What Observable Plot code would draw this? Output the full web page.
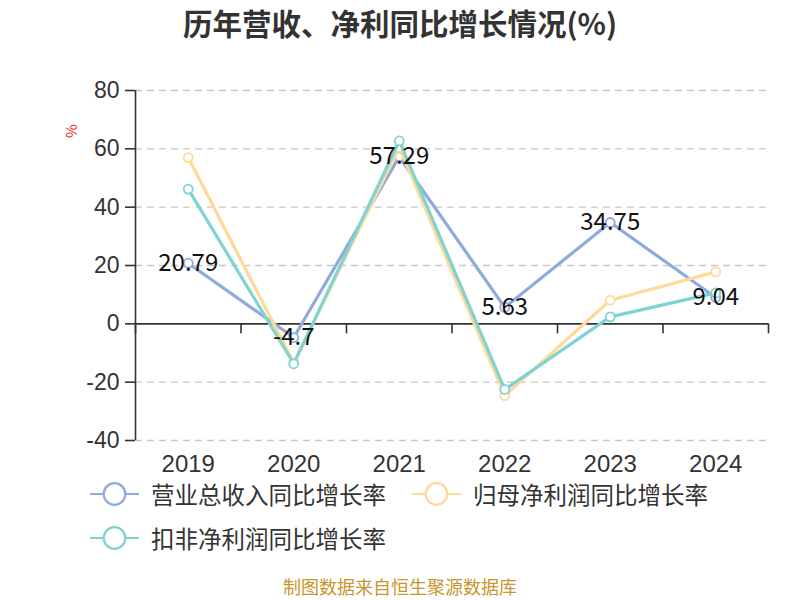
<!DOCTYPE html>
<html><head><meta charset="utf-8">
<script src="https://cdn.jsdelivr.net/npm/d3@7"></script>
<script src="https://cdn.jsdelivr.net/npm/@observablehq/plot@0.6"></script>
<style>
html,body{margin:0;padding:0;background:#fff;}
#wrap{position:relative;width:800px;height:600px;font-family:"Noto Sans CJK SC","Noto Sans",sans-serif;color:#333;overflow:hidden;}
#chart{position:absolute;left:0;top:0;}
.abs{position:absolute;white-space:nowrap;}
#title{left:0;width:800px;text-align:center;top:0px;line-height:44px;font-size:29.5px;font-weight:bold;color:#333;}
#caption{left:0;width:800px;text-align:center;top:577px;line-height:18px;font-size:18px;color:#C8962E;}
#ylab{left:64px;top:122px;font-size:15px;line-height:18px;color:#e8222a;transform:rotate(-90deg);transform-origin:center;}
.leg{display:flex;align-items:center;font-size:23.5px;line-height:24px;color:#333;}
.leg svg{margin-right:12px;}
</style></head>
<body>
<div id="wrap">
  <div id="chart"></div>
  <div id="title" class="abs">历年营收、净利同比增长情况(%)</div>
  <div id="ylab" class="abs">%</div>
  <div id="legend"></div>
  <div id="caption" class="abs">制图数据来自恒生聚源数据库</div>
</div>
<script>
const years = ["2019","2020","2021","2022","2023","2024"];
const seriesNames = ["营业总收入同比增长率","归母净利润同比增长率","扣非净利润同比增长率"];
const seriesColors = ["#8FAADC","#FFD998","#7FD3D3"];
const revenueGrowth = [20.79, -4.7, 57.29, 5.63, 34.75, 9.04];
const netProfitGrowth = [57.0, -13.4, 60.5, -24.6, 8.1, 17.8];
const deductedGrowth = [46.2, -13.7, 62.7, -22.5, 2.4, 10.6];
const yTicks = [-40, -20, 0, 20, 40, 60, 80];

const seriesValues = [revenueGrowth, netProfitGrowth, deductedGrowth];
const rows = seriesValues.map((vals, s) => years.map((y, i) => ({idx: i, year: y, value: vals[i], series: seriesNames[s]})));
const boundaries = d3.range(years.length + 1).map(i => i - 0.5);
const numFont = "'Liberation Sans',Arial,sans-serif";

const marks = [
  Plot.gridY(yTicks.filter(t => t !== 0), {stroke: "#c8c8c8", strokeOpacity: 1, strokeWidth: 1.3, strokeDasharray: "7,5"}),
  Plot.ruleY([0], {stroke: "#333", strokeWidth: 1.6}),
  Plot.ruleX([boundaries[0]], {stroke: "#333", strokeWidth: 1.6}),
  Plot.ruleX(boundaries, {y1: 0, y2: 0, insetBottom: -10, stroke: "#333", strokeWidth: 1.6}),
  Plot.axisY({ticks: yTicks, tickFormat: d => String(d), tickSize: 10, tickPadding: 6, fontSize: 23, fontFamily: numFont, color: "#333", label: null, strokeWidth: 1.6}),
  Plot.axisX({ticks: d3.range(years.length), tickFormat: i => years[i], tickSize: 0, tickPadding: 14, fontSize: 24, fontFamily: numFont, color: "#333", label: null, anchor: "bottom"})
];
rows.forEach((r, s) => {
  marks.push(Plot.line(r, {x: "idx", y: "value", stroke: seriesColors[s], strokeWidth: 3.2}));
  marks.push(Plot.dot(r, {x: "idx", y: "value", r: 4.5, fill: "white", stroke: seriesColors[s], strokeWidth: 1.8}));
});
marks.push(Plot.text(rows[0], {x: "idx", y: "value", text: d => String(d.value), fontSize: 24, fill: "#111"}));

const chart = Plot.plot({
  width: 800, height: 600,
  marginTop: 90, marginBottom: 160, marginLeft: 135, marginRight: 32,
  x: {type: "linear", domain: [boundaries[0], boundaries[boundaries.length - 1]], axis: null},
  y: {domain: [yTicks[0], yTicks[yTicks.length - 1]], axis: null},
  style: {fontFamily: "'Noto Sans CJK SC','Noto Sans',sans-serif", background: "transparent", overflow: "visible"},
  marks
});
document.getElementById("chart").appendChild(chart);

// legend
const legPos = [[90, 494], [412, 494], [90, 538]];
const legend = document.getElementById("legend");
seriesNames.forEach((name, s) => {
  const d = document.createElement("div");
  d.className = "abs leg";
  d.style.left = legPos[s][0] + "px";
  d.style.top = (legPos[s][1] - 12) + "px";
  d.style.height = "24px";
  d.innerHTML = `<svg width="49" height="24"><line x1="0" y1="12" x2="49" y2="12" stroke="${seriesColors[s]}" stroke-width="2.2"/><circle cx="24.5" cy="12" r="10.8" fill="white" stroke="${seriesColors[s]}" stroke-width="2.2"/></svg><span>${name}</span>`;
  legend.appendChild(d);
});
</script>
</body></html>
